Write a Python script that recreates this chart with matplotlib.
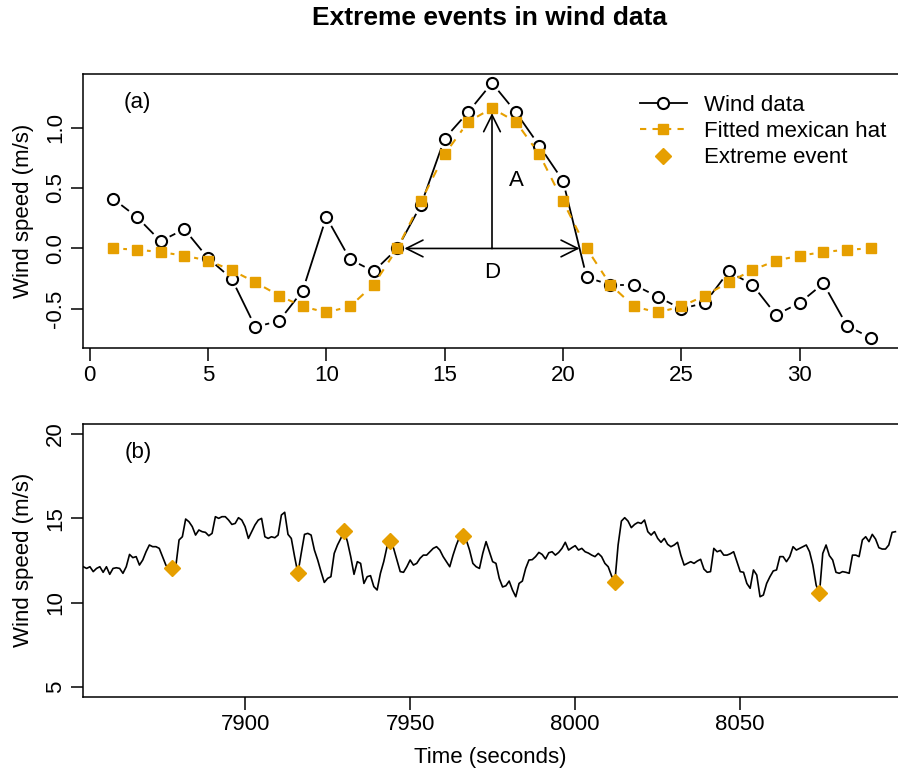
import numpy as np
import matplotlib
matplotlib.use("Agg")
import matplotlib.pyplot as plt
from matplotlib.lines import Line2D

plt.rcParams['font.family'] = ['Liberation Sans', 'DejaVu Sans']
plt.rcParams['font.size'] = 16

ORANGE = '#E69F00'

# panel (a): a single event, sample index 1..33
idx = np.arange(1, 34)
wind = [0.41, 0.26, 0.06, 0.16, -0.08, -0.25, -0.65, -0.60, -0.35, 0.26, -0.09, -0.19,
        0.00, 0.36, 0.91, 1.13, 1.37, 1.13, 0.85, 0.56, -0.24,
        -0.30, -0.30, -0.40, -0.50, -0.45, -0.19, -0.30, -0.55, -0.45, -0.29, -0.64, -0.74]
hat = [0.00, -0.01, -0.03, -0.06, -0.10, -0.18, -0.28, -0.39, -0.48, -0.53, -0.48, -0.30,
       0.00, 0.39, 0.78, 1.05, 1.16, 1.05, 0.78, 0.39, 0.00,
       -0.30, -0.48, -0.53, -0.48, -0.39, -0.28, -0.18, -0.10, -0.06, -0.03, -0.01, 0.00]

# panel (b): wind speed record, one value per second from t0
t0 = 7851
speed = [
    12.13, 12.03, 12.13, 11.84, 12.03, 12.13, 11.80, 12.13, 11.68, 12.03,
    12.07, 12.03, 11.74, 12.13, 12.86, 12.67, 12.73, 12.23, 12.53, 13.02,
    13.42, 13.32, 13.32, 13.22, 12.73, 12.23, 11.99, 12.07, 12.13, 13.72,
    13.91, 14.96, 14.80, 14.51, 14.01, 14.31, 14.21, 14.17, 13.97, 14.11,
    15.10, 15.00, 15.10, 15.10, 14.90, 14.64, 14.70, 15.04, 14.90, 14.51,
    13.81, 14.21, 14.61, 14.90, 15.00, 13.91, 13.81, 13.91, 13.85, 14.01,
    15.20, 15.36, 14.05, 13.81, 12.73, 11.74, 12.92, 14.05, 14.11, 14.01,
    13.12, 12.53, 11.84, 11.20, 11.44, 11.54, 12.92, 13.42, 13.81, 14.25,
    13.62, 12.73, 11.68, 12.43, 12.33, 11.14, 11.54, 11.60, 10.95, 10.75,
    11.74, 12.43, 13.32, 13.66, 13.22, 12.53, 11.84, 11.80, 12.13, 12.53,
    12.23, 12.33, 12.63, 12.82, 12.82, 13.02, 13.22, 13.32, 13.12, 12.73,
    12.43, 12.13, 12.82, 13.42, 13.91, 13.97, 13.72, 13.12, 12.33, 12.13,
    12.03, 12.92, 13.62, 13.02, 12.43, 12.33, 11.44, 10.93, 11.00, 11.28,
    10.75, 10.35, 11.14, 11.28, 12.03, 12.53, 12.55, 12.73, 12.98, 12.86,
    12.59, 12.96, 13.02, 12.82, 12.98, 13.22, 13.58, 13.12, 13.26, 13.38,
    13.12, 13.22, 13.02, 12.94, 12.82, 12.73, 12.92, 12.73, 12.33, 12.13,
    11.60, 11.20, 13.42, 14.84, 15.04, 14.84, 14.45, 14.64, 14.76, 14.70,
    14.90, 14.21, 14.01, 14.21, 13.81, 13.58, 13.81, 13.46, 13.32, 13.42,
    13.58, 12.82, 12.23, 12.33, 12.43, 12.33, 12.47, 12.57, 11.99, 11.80,
    11.84, 13.22, 13.02, 13.10, 12.82, 12.82, 12.90, 13.02, 12.43, 11.84,
    11.80, 11.14, 10.85, 11.94, 11.64, 10.35, 10.45, 11.14, 11.54, 11.88,
    11.94, 12.73, 12.73, 12.43, 12.73, 13.32, 13.12, 13.22, 13.32, 13.42,
    13.02, 12.23, 11.04, 10.55, 12.92, 13.42, 12.79, 12.53, 11.80, 11.74,
    11.84, 11.80, 11.74, 12.82, 12.82, 12.73, 13.72, 13.91, 13.62, 14.05,
    13.77, 13.26, 13.18, 13.18, 13.42, 14.17, 14.21,
]
event_t = [7878, 7916, 7930, 7944, 7966, 8012, 8074]
event_v = [12.07, 11.74, 14.25, 13.66, 13.97, 11.20, 10.55]


def gapped(ax, x, y, gap, **kw):
    # R type="b": segments stop short of the points
    pts = ax.transData.transform(np.column_stack([x, y]))
    inv = ax.transData.inverted()
    for p, q in zip(pts[:-1], pts[1:]):
        d = q - p
        L = np.hypot(*d)
        if L <= 2 * gap:
            continue
        u = d / L
        seg = inv.transform([p + u * gap, q - u * gap])
        ax.plot(seg[:, 0], seg[:, 1], **kw)


def style(ax):
    for s in ax.spines.values():
        s.set_linewidth(1.1)
    ax.tick_params(direction='out', length=9, width=1.1, labelsize=16, pad=3)
    ax.tick_params(axis='y', labelrotation=90)
    for lab in ax.get_yticklabels():
        lab.set_va('center')


W, H = 898, 773
fig = plt.figure(figsize=(W / 100, H / 100), dpi=100)

# ---- panel (a)
ax1 = fig.add_axes([83 / W, 1 - 348 / H, (901 - 83) / W, 274 / H])
ax1.set_xlim(-0.28, 34.28)
ax1.set_ylim(-0.824, 1.444)
ax1.set_xticks([0, 5, 10, 15, 20, 25, 30])
ax1.set_yticks([-0.5, 0.0, 0.5, 1.0])
ax1.set_yticklabels(['-0.5', '0.0', '0.5', '1.0'])
style(ax1)

gapped(ax1, idx, wind, 11, color='black', lw=1.3)
ax1.plot(idx, wind, 'o', ms=8, mfc='white', mec='black', mew=1.5, ls='none')
gapped(ax1, idx, hat, 10, color=ORANGE, lw=1.5, ls=(0, (4, 4)))
ax1.plot(idx, hat, 's', ms=7.5, color=ORANGE, ls='none')

arr = dict(arrowstyle='->,head_length=0.6,head_width=0.3', lw=1.2, color='black',
           shrinkA=0, shrinkB=0, mutation_scale=20)
ax1.annotate('', xy=(17, 1.12), xytext=(17, 0), arrowprops=arr)
ax1.annotate('', xy=(13.3, 0), xytext=(17, 0), arrowprops=arr)
ax1.annotate('', xy=(20.7, 0), xytext=(17, 0), arrowprops=arr)
ax1.text(18.05, 0.56, 'A', ha='center', va='center', fontsize=16)
ax1.text(17.0, -0.2, 'D', ha='center', va='center', fontsize=16)
ax1.text(2.0, 1.21, '(a)', ha='center', va='center', fontsize=16)

handles = [
    Line2D([], [], color='black', lw=1.3, marker='o', ms=8, mfc='white', mec='black', mew=1.5),
    Line2D([], [], color=ORANGE, lw=1.5, ls=(0, (3, 3)), marker='s', ms=7.5),
    Line2D([], [], color=ORANGE, ls='none', marker='D', ms=8),
]
ax1.legend(handles, ['Wind data', 'Fitted mexican hat', 'Extreme event'],
           loc='upper left', bbox_to_anchor=((640 - 83) / (901 - 83), 0.923),
           frameon=False, fontsize=16, handlelength=2.1, handletextpad=0.8,
           labelspacing=0.23, borderaxespad=0, borderpad=0)

# ---- panel (b)
ax2 = fig.add_axes([83 / W, 1 - 697 / H, (901 - 83) / W, 273 / H])
t = np.arange(t0, t0 + len(speed))
ax2.plot(t, speed, color='black', lw=1.2)
ax2.plot(event_t, event_v, 'D', ms=8, color=ORANGE, ls='none')
ax2.set_xlim(7850.9, 8098.7)
ax2.set_ylim(4.4, 20.6)
ax2.set_xticks([7900, 7950, 8000, 8050])
ax2.set_yticks([5, 10, 15, 20])
style(ax2)
ax2.text(7867.6, 18.88, '(b)', ha='center', va='center', fontsize=16)

fig.text(24 / W, 1 - 211 / H, 'Wind speed (m/s)', rotation=90, ha='center', va='center', fontsize=16)
fig.text(24 / W, 1 - 560 / H, 'Wind speed (m/s)', rotation=90, ha='center', va='center', fontsize=16)
fig.text(490 / W, 1 - 757 / H, 'Time (seconds)', ha='center', va='center', fontsize=16)
fig.text(490 / W, 1 - 18 / H, 'Extreme events in wind data', ha='center', va='center',
         fontsize=19, fontweight='bold')

fig.savefig('out.png', dpi=100)
